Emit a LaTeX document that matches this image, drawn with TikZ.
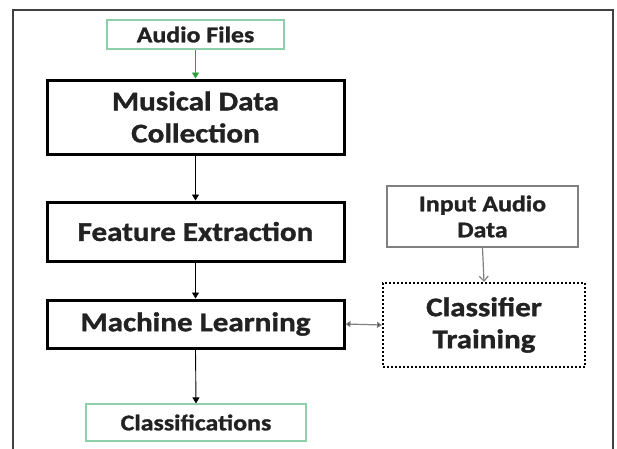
\documentclass[tikz,border=0pt]{standalone}
\usepackage{fontspec}
\setmainfont{Carlito}[FakeStretch=1.15, BoldFeatures={FakeBold=1.2}]
\usetikzlibrary{arrows.meta}
\definecolor{frameg}{HTML}{404040}
\definecolor{greenb}{HTML}{8CCFA8}
\definecolor{greena}{HTML}{2E9E3A}
\definecolor{txt}{HTML}{222222}
\definecolor{grayb}{HTML}{808080}
\tikzset{
  bigtxt/.style={font=\fontsize{27}{32}\selectfont\bfseries, text=txt, align=center},
  smalltxt/.style={font=\fontsize{22.5}{26}\selectfont\bfseries, text=txt, align=center},
  mainbox/.style={draw=black, line width=3pt, inner sep=0pt, bigtxt},
  greenbox/.style={draw=greenb, line width=1.2pt, inner sep=0pt, smalltxt},
  graybox/.style={draw=grayb, line width=1.5pt, inner sep=0pt, smalltxt},
  dotbox/.style={draw=black, line width=2pt, dash pattern=on 2pt off 2pt, inner sep=0pt, bigtxt},
  flow/.style={draw=black, line width=0.9pt, -{Triangle[width=7pt,length=6pt]}},
}
\begin{document}
\begin{tikzpicture}[x=1pt,y=-1pt]
\useasboundingbox (0,0) rectangle (617,448);
% outer frame (open at bottom)
\draw[frameg, line width=2pt] (13,452) -- (13,10) -- (613,10) -- (613,452);

\node[greenbox, minimum width=177pt, minimum height=29pt] (af) at (195.5,34.5) {Audio Files};
\node[mainbox, minimum width=297pt, minimum height=74pt] (mdc) at (195.5,117) {Musical Data\\Collection};
\node[mainbox, minimum width=297pt, minimum height=59pt] (fe) at (195.5,231.5) {Feature Extraction};
\node[mainbox, minimum width=297pt, minimum height=48pt] (ml) at (195.5,324) {Machine Learning};
\node[greenbox, minimum width=220pt, minimum height=37pt] (cl) at (196,422.5) {Classifications};
\node[graybox, minimum width=191pt, minimum height=61pt] (ia) at (482.5,216.5) {Input Audio\\Data};
\node[dotbox, minimum width=202pt, minimum height=84pt] (ct) at (484,325) {Classifier\\Training};

\draw[flow, draw=greena, -{Triangle[width=7pt,length=6pt,fill=greena]}] (af.south) -- (mdc.north);
\draw[flow] (mdc.south) -- (fe.north);
\draw[flow] (fe.south) -- (ml.north);
\draw[flow] (ml.south) -- (cl.north);
\draw[draw=grayb, line width=1.2pt, -{Straight Barb[width=9pt,length=5pt]}] (ia.south) -- (ct.north);
\draw[draw=grayb, line width=1.2pt, {Triangle[width=6pt,length=5pt,fill=black]}-{Triangle[width=6pt,length=5pt,fill=black]}] (ml.east) -- (ct.west);
\end{tikzpicture}
\end{document}
